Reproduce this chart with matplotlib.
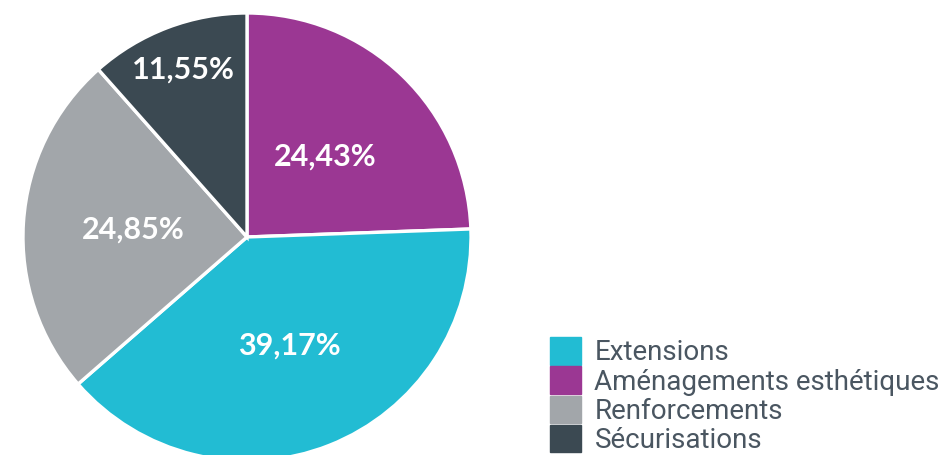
import numpy as np
import matplotlib.pyplot as plt

# legend order
categories = ["Extensions", "Aménagements esthétiques", "Renforcements", "Sécurisations"]
shares = [39.17, 24.43, 24.85, 11.55]
colors = ["#22bcd3", "#9b3793", "#a2a6aa", "#3b4952"]

# pie goes clockwise from top starting with Aménagements
pie_order = [1, 0, 2, 3]
label_dist = [0.5, 0.52, 0.51, 0.8]

fig = plt.figure(figsize=(9.47, 4.55), dpi=100)
ax = fig.add_axes([23 / 947, (455 - 237 - 224) / 455, 448 / 947, 448 / 455])

vals = [shares[i] for i in pie_order]
cols = [colors[i] for i in pie_order]
wedges, _ = ax.pie(vals, colors=cols, startangle=90, counterclock=False,
                   radius=1, wedgeprops=dict(edgecolor="white", linewidth=2.4))
ax.set_xlim(-1, 1)
ax.set_ylim(-1, 1)
ax.set_aspect("equal")
ax.axis("off")

for w, i in zip(wedges, pie_order):
    ang = np.deg2rad((w.theta1 + w.theta2) / 2)
    d = label_dist[pie_order.index(i)]
    ax.text(d * np.cos(ang), d * np.sin(ang), f"{shares[i]:.2f}".replace(".", ",") + "%",
            ha="center", va="center", color="white", fontsize=22,
            fontweight="bold", family="Lato")

handles = [plt.Rectangle((0, 0), 1, 1, color=c) for c in colors]
fig.legend(handles, categories, loc="lower left",
           bbox_to_anchor=(550 / 947, 1 / 455), frameon=False,
           prop=dict(family="Roboto", size=20), labelcolor="#4a5661",
           handlelength=1.1, handleheight=1.15, handletextpad=0.5,
           labelspacing=0.0, borderpad=0, borderaxespad=0)

fig.savefig("out.png", dpi=100, facecolor="white")
